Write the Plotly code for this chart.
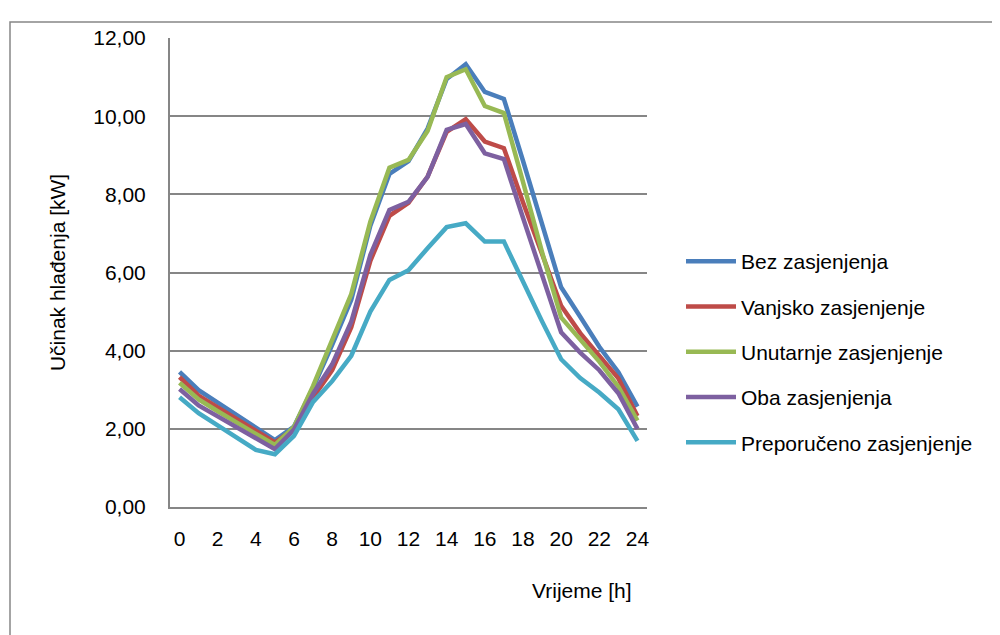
import plotly.graph_objects as go

hours = list(range(25))
x_ticks = list(range(0, 25, 2))
y_ticks = [0, 2, 4, 6, 8, 10, 12]

bez = [3.46, 2.99, 2.67, 2.35, 2.03, 1.71, 2.06, 3.05, 4.15, 5.30, 7.20, 8.52, 8.85,
       9.68, 10.95, 11.33, 10.62, 10.44, 8.86, 7.27, 5.62, 4.87, 4.10, 3.45, 2.57]
vanjsko = [3.32, 2.85, 2.55, 2.25, 1.95, 1.65, 2.00, 2.80, 3.50, 4.60, 6.30, 7.45, 7.78,
           8.45, 9.60, 9.92, 9.35, 9.18, 7.80, 6.45, 5.15, 4.45, 3.89, 3.29, 2.33]
unutarnje = [3.18, 2.75, 2.45, 2.15, 1.87, 1.59, 2.05, 3.10, 4.30, 5.45, 7.30, 8.68, 8.88,
             9.62, 11.00, 11.20, 10.26, 10.08, 8.32, 6.52, 4.85, 4.27, 3.72, 3.08, 2.21]
oba = [3.02, 2.60, 2.32, 2.04, 1.76, 1.48, 1.98, 2.90, 3.65, 4.74, 6.45, 7.60, 7.81,
       8.45, 9.65, 9.80, 9.05, 8.90, 7.40, 5.92, 4.47, 3.95, 3.50, 2.91, 2.00]
preporuceno = [2.81, 2.40, 2.09, 1.78, 1.46, 1.35, 1.82, 2.69, 3.22, 3.87, 5.00, 5.81, 6.06,
               6.62, 7.16, 7.26, 6.79, 6.79, 5.76, 4.75, 3.78, 3.30, 2.93, 2.50, 1.69]

series_names = ["Bez zasjenjenja", "Vanjsko zasjenjenje", "Unutarnje zasjenjenje",
                "Oba zasjenjenja", "Preporučeno zasjenjenje"]
series_values = [bez, vanjsko, unutarnje, oba, preporuceno]
colors = ["#4A7EBB", "#BE4B48", "#98B954", "#7D60A0", "#46AAC5"]

FONT = "Liberation Sans"
FS = 21

fig = go.Figure()
for name, vals, col in zip(series_names, series_values, colors):
    fig.add_trace(go.Scatter(
        x=hours, y=vals, mode="lines", name=name, legendgroup=name,
        line=dict(color=col, width=4.5),
    ))

# plot area in page pixels: x 170..647, y 38..507 (page body has 8px margin)
fig.update_layout(
    width=992, height=627,
    margin=dict(l=162, r=353, t=30, b=128),
    paper_bgcolor="white", plot_bgcolor="white",
    separators=",.",
    font=dict(family=FONT, size=FS, color="black"),
    showlegend=True,
    legend=dict(x=(681 - 170) / 477, xanchor="left", y=(507 - 352) / 469, yanchor="middle",
                font=dict(family=FONT, size=FS, color="black"),
                tracegroupgap=15, itemwidth=50, bgcolor="rgba(0,0,0,0)"),
    xaxis=dict(range=[-0.5, 24.5], tickmode="array", tickvals=x_ticks,
               ticktext=[str(v) for v in x_ticks], showgrid=False, zeroline=False,
               showline=True, linecolor="#868686", linewidth=2, ticks="",
               ticklabelstandoff=12),
    yaxis=dict(range=[0, 12], tickmode="array", tickvals=y_ticks, tickformat=".2f",
               showgrid=True, gridcolor="#868686", gridwidth=1.5, zeroline=False,
               showline=True, linecolor="#868686", linewidth=2, ticks="",
               ticklabelstandoff=18,
               title=dict(text="Učinak hlađenja [kW]", standoff=22,
                          font=dict(family=FONT, size=FS))),
    annotations=[dict(text="Vrijeme [h]", xref="paper", yref="paper",
                      x=(582 - 170) / 477, y=(507 - 590) / 469,
                      xanchor="center", yanchor="middle", showarrow=False,
                      font=dict(family=FONT, size=FS, color="black"))],
    shapes=[dict(type="rect", xref="paper", yref="paper",
                 x0=(10 - 170) / 477, x1=(1030 - 170) / 477,
                 y0=(507 - 660) / 469, y1=(507 - 22) / 469,
                 line=dict(color="#868686", width=1.5), fillcolor="rgba(0,0,0,0)",
                 layer="below")],
)

fig.write_html("out.html")
